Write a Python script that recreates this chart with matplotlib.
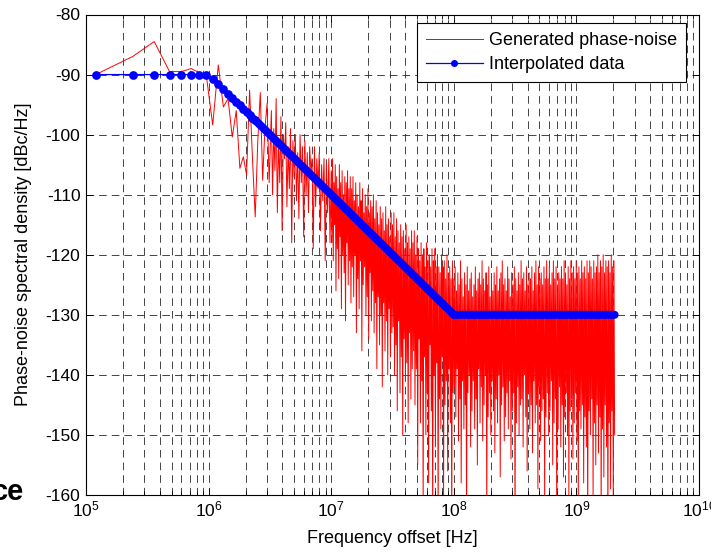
import numpy as np
import matplotlib
matplotlib.use('Agg')
import matplotlib.pyplot as plt
from matplotlib.ticker import LogLocator, NullFormatter, MultipleLocator

plt.rcParams['font.family'] = ['Liberation Sans', 'DejaVu Sans']
plt.rcParams['lines.scale_dashes'] = False
plt.rcParams['axes.unicode_minus'] = False

DF = 1.2e5                                  # frequency bin of the generated spectrum [Hz]

# Generated phase-noise, first bins (k * DF), read one by one
red_low_bins = np.arange(1, 27)
red_low = [-90.0, -87.0, -84.5, -89.5, -89.5, -89.0, -89.7, -90.3, -98.4, -88.4,
           -95.4, -94.0, -100.4, -96.0, -105.6, -103.7, -106.7, -92.6, -104.0, -113.7,
           -101.0, -93.0, -107.6, -99.0, -94.8, -108.0]

# Generated phase-noise, dense part (3.25 MHz .. 10 MHz)
red_seg_a = [-96, -110, -99, -106, -94, -113, -101, -108, -97, -116,
             -100, -104, -98, -112, -102, -109, -99, -118, -101, -107,
             -100, -111, -103, -114, -100, -108, -102, -117, -101, -110,
             -103, -113, -102, -106, -104, -119, -102, -112, -104, -109,
             -103, -116, -105, -111, -104, -121, -105, -113, -104, -118]

# 10 MHz .. 100 MHz
red_seg_b = [-106, -118, -104, -121, -108, -115, -105, -126, -107, -119, -109, -124, -105, -117, -108,
             -129, -106, -120, -110, -123, -107, -131, -108, -118, -106, -125, -109, -121, -107, -128,
             -109, -122, -107, -127, -111, -120, -108, -133, -110, -124, -112, -129, -108, -121, -111,
             -136, -109, -125, -113, -122, -110, -130, -112, -127, -109, -134, -113, -123, -111, -131,
             -112, -126, -110, -133, -114, -128, -111, -139, -113, -127, -115, -135, -112, -130, -114,
             -142, -113, -128, -116, -136, -112, -131, -115, -140, -114, -129, -117, -137, -113, -133,
             -115, -132, -113, -140, -117, -135, -114, -146, -116, -131, -118, -143, -115, -137, -117,
             -150, -116, -134, -119, -141, -115, -138, -118, -148, -117, -133, -119, -144, -116, -139,
             -118, -136, -116, -145, -120, -139, -117, -155, -119, -134, -121, -148, -118, -141, -120,
             -163, -119, -137, -122, -150, -118, -143, -121, -158, -120, -135, -122, -146, -119, -166,
             -121, -140, -119, -152, -122, -138, -120, -165, -122, -144, -123, -149, -120, -137, -122,
             -160, -121, -145, -124, -141, -120, -156, -123, -139, -122, -148, -124, -166, -121, -143]

# 100 MHz .. 2.05 GHz
red_seg_c = [-124, -142, -122, -147, -126, -139, -123, -151, -125, -144, -121, -158, -124, -141, -127, -149, -123, -145, -125, -166,
             -122, -143, -126, -140, -124, -152, -123, -146, -127, -141, -125, -149, -122, -144, -126, -155, -124, -139, -123, -148,
             -125, -142, -121, -151, -124, -145, -126, -140, -123, -164, -125, -147, -122, -143, -127, -150, -124, -141, -126, -146,
             -123, -153, -125, -144, -122, -148, -126, -140, -124, -157, -123, -145, -121, -142, -125, -151, -124, -147, -126, -143,
             -122, -149, -124, -141, -127, -154, -123, -146, -125, -143, -122, -167, -124, -148, -126, -142, -123, -150, -125, -145,
             -121, -144, -124, -152, -123, -140, -126, -147, -122, -156, -125, -143, -123, -149, -124, -145, -122, -153, -126, -141,
             -123, -148, -121, -145, -125, -159, -122, -142, -124, -151, -123, -146, -125, -144, -122, -162, -124, -147, -121, -143,
             -124, -150, -122, -146, -125, -141, -123, -155, -121, -148, -124, -144, -122, -165, -125, -149, -123, -142, -124, -152,
             -122, -145, -124, -157, -121, -147, -123, -143, -125, -150, -122, -160, -124, -146, -121, -144, -123, -154, -122, -148,
             -124, -143, -121, -151, -123, -163, -122, -146, -124, -149, -121, -145, -123, -158, -122, -147, -124, -152, -121, -166,
             -123, -146, -121, -150, -122, -144, -124, -161, -121, -148, -123, -155, -122, -145, -120, -153, -123, -147, -121, -164,
             -122, -149, -120, -157, -123, -145, -121, -152, -122, -168, -121, -148, -123, -159, -120, -146, -122, -162, -121, -150]

# Interpolated data: separate dots at low offsets, then the merged part
blue_dot_freq = [1.2e5, 2.4e5, 3.6e5, 4.8e5, 6.0e5, 7.2e5, 8.4e5, 9.6e5, 1.08e6, 1.2e6,
                 1.32e6, 1.44e6, 1.56e6, 1.68e6, 1.8e6, 1.92e6, 2.04e6, 2.16e6, 2.28e6, 2.4e6]
blue_dot_level = [-90.0, -90.0, -90.0, -90.0, -90.0, -90.0, -90.0, -90.0, -90.7, -91.6,
                  -92.4, -93.2, -93.9, -94.5, -95.1, -95.7, -96.2, -96.7, -97.2, -97.6]
blue_tail_freq = [2.4e6, 1e8, 2.05e9]
blue_tail_level = [-97.6, -130.0, -130.0]

# Frequencies of the red trace
red_freq = np.concatenate([DF * red_low_bins,
                           np.geomspace(3.25e6, 1e7, len(red_seg_a), endpoint=False),
                           np.geomspace(1e7, 1e8, len(red_seg_b), endpoint=False),
                           np.geomspace(1e8, 2.05e9, len(red_seg_c))])
red_level = np.concatenate([red_low, red_seg_a, red_seg_b, red_seg_c])

fig = plt.figure(figsize=(7.11, 5.52), dpi=100)
ax = fig.add_axes([86 / 711, 1 - 495 / 552, 613 / 711, 480.5 / 552])

ax.semilogx(red_freq, red_level, color='red', linewidth=0.7, label='Generated phase-noise', zorder=3)
ax.semilogx(blue_dot_freq, blue_dot_level, color='blue', linewidth=0.9, marker='o',
            markersize=6.3, markeredgewidth=0, label='Interpolated data', zorder=4)
ax.semilogx(blue_tail_freq, blue_tail_level, color='blue', linewidth=5.8,
            solid_capstyle='round', solid_joinstyle='miter', zorder=4)

ax.set_xlim(1e5, 1e10)
ax.set_ylim(-160, -80)
ax.xaxis.set_major_locator(LogLocator(base=10, numticks=10))
ax.xaxis.set_minor_locator(LogLocator(base=10, subs=np.arange(2, 10), numticks=20))
ax.xaxis.set_minor_formatter(NullFormatter())
ax.yaxis.set_major_locator(MultipleLocator(10))

# MATLAB-like dashed grid
dash = (0, (5.5, 3.6))
ax.grid(True, which='major', axis='both', color='0.15', linewidth=0.6, linestyle=dash, zorder=0)
ax.grid(True, which='minor', axis='x', color='0.15', linewidth=0.6, linestyle=dash, zorder=0)
ax.set_axisbelow(True)

ax.tick_params(which='both', direction='in', top=True, right=True, width=0.6, labelsize=12.5)
ax.tick_params(which='major', length=5)
ax.tick_params(which='minor', length=3)
ax.tick_params(axis='x', pad=3)
ax.tick_params(axis='y', pad=4)
for sp in ax.spines.values():
    sp.set_linewidth(0.8)

ax.set_xlabel('Frequency offset [Hz]', fontsize=13)
ax.set_ylabel('Phase-noise spectral density [dBc/Hz]', fontsize=13)
ax.xaxis.set_label_coords(0.5, -0.072)
ax.yaxis.set_label_coords(-0.0873, 0.5)

leg = ax.legend(loc='upper right', bbox_to_anchor=(0.9788, 0.9823), borderaxespad=0,
                fontsize=13, fancybox=False, framealpha=1, edgecolor='black',
                handlelength=3.15, handletextpad=0.35, borderpad=0.5, labelspacing=0.38,
                numpoints=1, markerscale=0.8)
leg.get_frame().set_linewidth(0.8)

# cut-off bold caption at the bottom left
fig.text(24.5 / 711, 1 - 500.5 / 552, 'ce', ha='right', va='baseline',
         fontsize=21, fontweight='bold')

fig.savefig('out.png', dpi=100)
